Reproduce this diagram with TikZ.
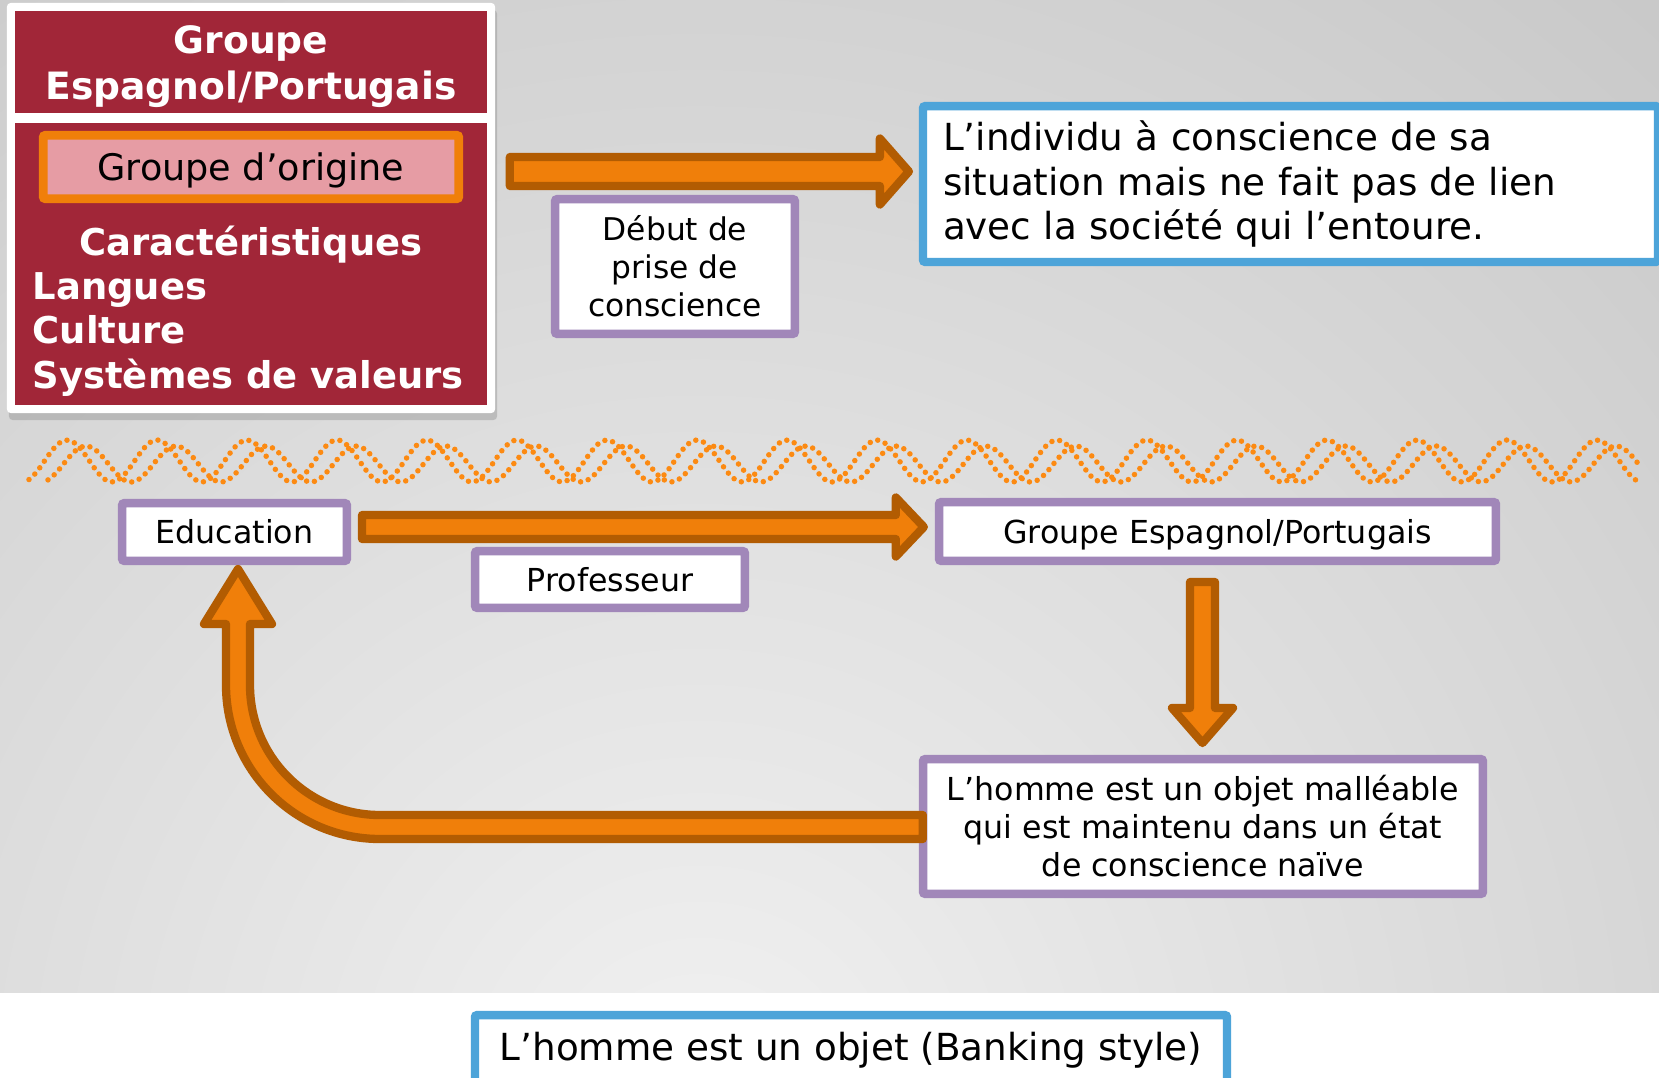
\documentclass[tikz,border=0pt]{standalone}
\usepackage{fontspec}
\setmainfont{DejaVu Sans}
\usetikzlibrary{calc,shadows}

\definecolor{wine}{RGB}{161,38,56}
\definecolor{rosy}{RGB}{230,156,164}
\definecolor{aorange}{RGB}{240,127,10}
\definecolor{adark}{RGB}{178,92,2}
\definecolor{lilac}{RGB}{161,135,185}
\definecolor{skyblue}{RGB}{77,164,217}
\definecolor{helixcol}{RGB}{252,138,18}
\definecolor{bglight}{RGB}{241,241,241}
\definecolor{bgdark}{RGB}{158,158,158}

\begin{document}
\begin{tikzpicture}[x=0.01cm,y=-0.01cm]
\tikzstyle{frame}=[fill=white, rounded corners=0.04cm, inner sep=0pt,
  drop shadow={shadow xshift=0.02cm, shadow yshift=-0.07cm, opacity=0.35}]
\tikzstyle{redpart}=[fill=wine, inner sep=0pt]
\tikzstyle{titletxt}=[text=white, align=center, inner sep=0pt,
  font=\bfseries\fontsize{10.7pt}{13.1pt}\selectfont]
\tikzstyle{whitetxt}=[text=white, inner sep=0pt, font=\bfseries\fontsize{10.5pt}{12pt}\selectfont]
\tikzstyle{origbox}=[fill=rosy, draw=aorange, line width=0.087cm, rounded corners=0.02cm,
  minimum width=4.153cm, minimum height=0.633cm, text depth=0pt, font=\fontsize{10.4pt}{12pt}\selectfont]
\tikzstyle{pbox}=[draw=lilac, line width=0.085cm, fill=white, rounded corners=0.02cm,
  align=center, font=\fontsize{9pt}{10.8pt}\selectfont]
\tikzstyle{bbox}=[draw=skyblue, line width=0.083cm, fill=white, rounded corners=0.02cm]
\tikzstyle{blockarrow}=[fill=aorange, draw=adark, line width=0.083cm, line join=round]
\tikzstyle{helix}=[draw=helixcol, line width=0.055cm, line cap=round, dash pattern=on 0pt off 0.08cm]

\useasboundingbox (0,0) rectangle (1659,1078);
% background
\fill[white] (0,0) rectangle (1659,1078);
\begin{scope}
\clip (0,0) rectangle (1659,992);
\shade[inner color=bglight, outer color=bgdark] (700,1100) circle (3000);
\end{scope}

% double wave
\draw[helix] plot[domain=29:1640, samples=400] (\x,{461-21*cos(4*(\x-67))});
\draw[helix] plot[domain=48:1640, samples=400] (\x,{464-18*cos(4*(\x-176))});

% group box
\node[frame, minimum width=4.88cm, minimum height=4.10cm] (grp) at (251,208) {};
\node[redpart, minimum width=4.72cm, minimum height=1.02cm] (head) at (251,62) {};
\node[titletxt] (title) at (251,67) {Groupe\\Espagnol/Portugais};
\node[redpart, minimum width=4.72cm, minimum height=2.82cm] (body) at (251,264) {};
\node[origbox] (orig) at (251,167) {Groupe d’origine};
\node[whitetxt, anchor=base] (carac) at (251,255) {Caractéristiques};
\foreach \t/\y/\n in {Langues/299/lang, Culture/343/cult, Systèmes de valeurs/388/syst}
  \node[whitetxt, anchor=base west] (\n) at (32,\y) {\t};

% boxes
\node[pbox, minimum width=2.395cm, minimum height=1.345cm, font=\fontsize{8.9pt}{10.8pt}\selectfont] (debut) at (675,266.5) {Début de\\prise de\\conscience};
\node[bbox, align=left, text width=6.945cm, inner xsep=0.2cm, minimum height=1.557cm,
  font=\fontsize{10.6pt}{12.6pt}\selectfont] (situ) at (1290.5,184) {L’individu à conscience de sa\\situation mais ne fait pas de lien\\avec la société qui l’entoure.};
\node[pbox, minimum width=2.245cm, minimum height=0.575cm] (edu) at (234.5,532) {Education};
\node[pbox, minimum width=2.695cm, minimum height=0.565cm] (prof) at (610,579.5) {Professeur};
\node[pbox, minimum width=5.565cm, minimum height=0.585cm, text depth=0pt] (grpep) at (1217.5,531.5) {Groupe Espagnol/Portugais};
\node[pbox, minimum width=5.595cm, minimum height=1.345cm] (homme) at (1203,826.5) {L’homme est un objet malléable\\qui est maintenu dans un état\\de conscience naïve};
\node[bbox, minimum width=7.517cm, minimum height=0.697cm, font=\fontsize{10.6pt}{12pt}\selectfont] (bank) at (851,1050) {L’homme est un objet (Banking style)};

% arrows
\coordinate (a1) at ($(grp.east)+(14,-36.5)$);
\coordinate (a2) at ($(a1 -| situ.west)+(-10,0)$);
\draw[blockarrow] ($(a1)+(0,-14.5)$) -- ($(a2)+(-29,-14.5)$) -- ($(a2)+(-29,-33)$) -- (a2)
  -- ($(a2)+(-29,33)$) -- ($(a2)+(-29,14.5)$) -- ($(a1)+(0,14.5)$) -- cycle;

\coordinate (b1) at ($(edu.east)+(11,-5)$);
\coordinate (b2) at ($(b1 -| grpep.west)+(-11,0)$);
\draw[blockarrow] ($(b1)+(0,-12)$) -- ($(b2)+(-28,-12)$) -- ($(b2)+(-28,-29.5)$) -- (b2)
  -- ($(b2)+(-28,29.5)$) -- ($(b2)+(-28,12)$) -- ($(b1)+(0,12)$) -- cycle;

\coordinate (c1) at ($(grpep.south)+(-15,17)$);
\coordinate (c2) at ($(c1 |- homme.north)+(0,-12)$);
\draw[blockarrow] ($(c1)+(-12.5,0)$) -- ($(c2)+(-12.5,-35)$) -- ($(c2)+(-30.5,-35)$) -- (c2)
  -- ($(c2)+(30.5,-35)$) -- ($(c2)+(12.5,-35)$) -- ($(c1)+(12.5,0)$) -- cycle;

% back to education
\coordinate (d1) at ($(homme.west)+(4,0.5)$);
\coordinate (d2) at ($(edu.south)+(3.5,4)$);
\coordinate (d0) at (d2 |- d1);
\draw[blockarrow] ($(d1)+(0,-12)$) -- ($(d0)+(142,-12)$) arc[start angle=90, end angle=180, radius=130]
  -- ($(d2)+(12,55)$) -- ($(d2)+(34,55)$) -- (d2) -- ($(d2)+(-34,55)$) -- ($(d2)+(-12,55)$)
  -- ($(d0)+(-12,-142)$) arc[start angle=180, end angle=90, radius=154] -- ($(d1)+(0,12)$) -- cycle;
\end{tikzpicture}
\end{document}
